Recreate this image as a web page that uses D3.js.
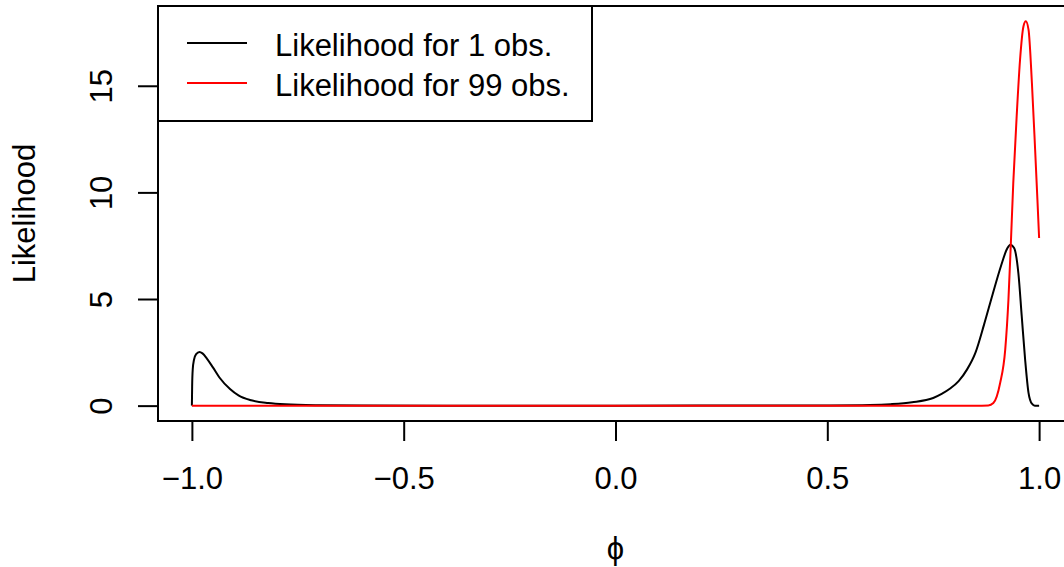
<!DOCTYPE html>
<html>
<head>
<meta charset="utf-8">
<script src="https://cdn.jsdelivr.net/npm/d3@7"></script>
<style>
  html, body { margin: 0; padding: 0; background: #ffffff; }
  svg { display: block; }
  text { font-family: "Liberation Sans", Arial, Helvetica, sans-serif; fill: #000; }
</style>
</head>
<body>
<svg id="chart" width="1064" height="567"></svg>
<script>
// ---- data ----
const phiObs1 = [-1.0, -0.9994, -0.998, -0.995, -0.99, -0.982, -0.975, -0.965, -0.95, -0.935, -0.91, -0.89, -0.86, -0.82, -0.78, -0.70, -0.60, -0.40, 0.0, 0.40, 0.50, 0.60, 0.65, 0.70, 0.75, 0.77, 0.79, 0.81, 0.83, 0.85, 0.87, 0.89, 0.91, 0.925, 0.932, 0.941, 0.951, 0.959, 0.967, 0.975, 0.983, 0.99, 1.0];
const likObs1 = [0.0, 0.9, 1.7, 2.15, 2.42, 2.52, 2.45, 2.22, 1.78, 1.32, 0.78, 0.48, 0.25, 0.12, 0.06, 0.02, 0.005, 0.0, 0.0, 0.002, 0.008, 0.03, 0.07, 0.16, 0.36, 0.55, 0.8, 1.15, 1.7, 2.5, 3.8, 5.2, 6.55, 7.38, 7.55, 7.39, 6.22, 4.19, 2.16, 0.6, 0.09, 0.0, 0.0];

const phiObs99 = [-1.0, 0.0, 0.85, 0.88, 0.892, 0.908, 0.92, 0.9276, 0.933, 0.939, 0.947, 0.955, 0.963, 0.9686, 0.975, 0.983, 0.9906, 0.996, 1.0];
const likObs99 = [0.0, 0.0, 0.0, 0.01, 0.12, 1.06, 2.63, 4.97, 7.47, 10.44, 13.56, 16.22, 17.78, 18.02, 17.63, 15.13, 12.0, 9.66, 7.86];

const xTicks = [-1.0, -0.5, 0.0, 0.5, 1.0];
const xTickLabels = ["\u22121.0", "\u22120.5", "0.0", "0.5", "1.0"];
const yTicks = [0, 5, 10, 15];
const yTickLabels = ["0", "5", "10", "15"];
const seriesNames = ["Likelihood for 1 obs.", "Likelihood for 99 obs."];
const seriesColors = ["#000000", "#ff0000"];
const xLabel = "\u03D5";
const yLabel = "Likelihood";

// ---- layout ----
const svg = d3.select("#chart");
const plot = { left: 158, right: 1073, top: 6, bottom: 421 };
const FS = 31;

// R-style 4% padding
const xDom = [-1 - 0.08, 1 + 0.08];
const yMax = 18.02;
const yDom = [-0.04 * yMax, yMax * 1.04];

const x = d3.scaleLinear().domain(xDom).range([plot.left, plot.right]);
const y = d3.scaleLinear().domain(yDom).range([plot.bottom, plot.top]);

const clipId = "plotclip";
svg.append("defs").append("clipPath").attr("id", clipId)
  .append("rect").attr("x", plot.left).attr("y", plot.top)
  .attr("width", plot.right - plot.left).attr("height", plot.bottom - plot.top);

// ---- curves ----
const line = d3.line().x(d => x(d[0])).y(d => y(d[1])).curve(d3.curveMonotoneX);
const series = [
  d3.zip(phiObs1, likObs1),
  d3.zip(phiObs99, likObs99)
];
series.forEach((s, i) => {
  svg.append("path")
    .datum(s)
    .attr("clip-path", `url(#${clipId})`)
    .attr("fill", "none")
    .attr("stroke", seriesColors[i])
    .attr("stroke-width", 2)
    .attr("stroke-linejoin", "round")
    .attr("d", line);
});

// ---- box ----
svg.append("rect")
  .attr("x", plot.left).attr("y", plot.top)
  .attr("width", plot.right - plot.left).attr("height", plot.bottom - plot.top)
  .attr("fill", "none").attr("stroke", "#000").attr("stroke-width", 2);

// ---- x axis ----
const xAxis = d3.axisBottom(x).tickValues(xTicks).tickSize(20).tickPadding(26)
  .tickFormat((d, i) => xTickLabels[i]);
const gx = svg.append("g").attr("transform", `translate(0,${plot.bottom})`).call(xAxis);
gx.select(".domain").attr("d", `M${x(xTicks[0])},0H${x(xTicks[xTicks.length - 1])}`)
  .attr("stroke", "#000").attr("stroke-width", 2);
gx.selectAll(".tick line").attr("stroke", "#000").attr("stroke-width", 2);
gx.selectAll(".tick text")
  .attr("font-size", FS).attr("font-family", "Liberation Sans, Arial, sans-serif")
  .attr("dy", null).attr("y", 68).attr("fill", "#000");

// ---- y axis ----
const yAxis = d3.axisLeft(y).tickValues(yTicks).tickSize(20).tickFormat((d, i) => yTickLabels[i]);
const gy = svg.append("g").attr("transform", `translate(${plot.left},0)`).call(yAxis);
gy.select(".domain").attr("d", `M0,${y(yTicks[0])}V${y(yTicks[yTicks.length - 1])}`)
  .attr("stroke", "#000").attr("stroke-width", 2);
gy.selectAll(".tick line").attr("stroke", "#000").attr("stroke-width", 2);
gy.selectAll(".tick text")
  .attr("font-size", FS).attr("font-family", "Liberation Sans, Arial, sans-serif")
  .attr("x", null).attr("dy", null)
  .attr("text-anchor", "middle")
  .attr("transform", "translate(-46,0) rotate(-90)")
  .attr("y", 0).attr("fill", "#000");

// ---- axis titles ----
svg.append("text")
  .attr("transform", `translate(35,${(plot.top + plot.bottom) / 2}) rotate(-90)`)
  .attr("text-anchor", "middle").attr("font-size", FS)
  .text(yLabel);
svg.append("text")
  .attr("x", (plot.left + plot.right) / 2).attr("y", 559)
  .attr("text-anchor", "middle").attr("font-size", FS)
  .text(xLabel);

// ---- legend ----
const lg = svg.append("g");
lg.append("rect")
  .attr("x", plot.left).attr("y", plot.top)
  .attr("width", 592 - plot.left).attr("height", 121 - plot.top)
  .attr("fill", "#fff").attr("stroke", "#000").attr("stroke-width", 2);
const rowsY = [43, 83];
seriesNames.forEach((name, i) => {
  lg.append("line")
    .attr("x1", 187).attr("x2", 247).attr("y1", rowsY[i]).attr("y2", rowsY[i])
    .attr("stroke", seriesColors[i]).attr("stroke-width", 2);
  lg.append("text")
    .attr("x", 275).attr("y", rowsY[i] + 13)
    .attr("font-size", FS)
    .text(name);
});
</script>
</body>
</html>
